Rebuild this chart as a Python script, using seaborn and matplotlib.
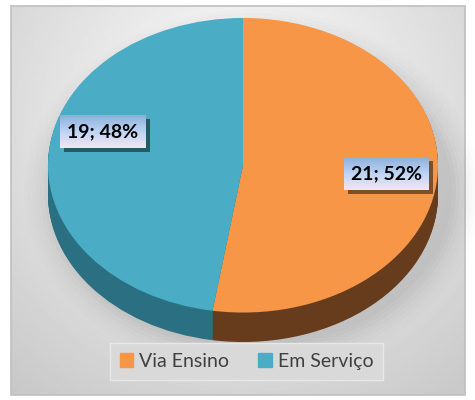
import numpy as np
import matplotlib
matplotlib.use("Agg")
import matplotlib.pyplot as plt
import matplotlib.patches as mpatches
import matplotlib.patheffects as pe
import seaborn as sns

categorias = ["Via Ensino", "Em Serviço"]
valores = [21, 19]
percentuais = [52, 48]
cores = ["#F79646", "#4BACC6"]
cores_lado = ["#673C1C", "#2B7082"]

sns.set_theme(style="white")
plt.rcParams["font.family"] = ["Lato", "DejaVu Sans"]

fig = plt.figure(figsize=(4.75, 4.0), dpi=100)

# fundo com gradiente radial e moldura
bg = fig.add_axes([0, 0, 1, 1])
bg.set_xlim(0, 475)
bg.set_ylim(400, 0)
bg.axis("off")
yy, xx = np.mgrid[0:390, 0:455]
d = np.sqrt(((xx - 230) / 330.0) ** 2 + ((yy - 110) / 330.0) ** 2)
grad = np.clip(1.0 - 0.2 * d, 0.78, 1.0)
bg.imshow(grad, cmap="gray", vmin=0, vmax=1, extent=(11, 465, 395, 6), aspect="auto", zorder=0)
bg.add_patch(mpatches.Rectangle((11, 6), 454, 389, fill=False, ec="#BFBFBF", lw=1.2, zorder=1))

# sombra suave do pie
for i, a in enumerate(np.linspace(0.06, 0.012, 8)):
    bg.add_patch(mpatches.Ellipse((252, 192), 400 + i * 8, 310 + i * 8, color="#808080", alpha=a, lw=0, zorder=1))

# pie 3D: camadas escuras para a espessura + topo
ax = fig.add_axes([48 / 475, (400 - 342) / 400, 390 / 475, 324 / 400])
prof = 0.2
for off in np.linspace(prof, 0.005, 30):
    ax.pie(valores, colors=cores_lado, startangle=90, counterclock=False,
           center=(0, -off), wedgeprops=dict(linewidth=0))
wedges, textos, autot = ax.pie(valores, colors=cores, startangle=90, counterclock=False,
                               autopct="%1.0f%%", pctdistance=0.74,
                               wedgeprops=dict(linewidth=0))
ax.set_aspect("auto")
ax.set_xlim(-1, 1)
ax.set_ylim(-1 - prof, 1)
ax.axis("off")

# rotulos "valor; percentual" com caixa em gradiente e sombra
grad_box = np.linspace(0, 1, 50).reshape(-1, 1)
cmap_box = matplotlib.colors.LinearSegmentedColormap.from_list("box", ["#8FAFD9", "#BCD4F5", "#F4E6F0"])
for k, t in enumerate(autot):
    t.set_text(f"{valores[k]}; {percentuais[k]}%")
    t.set_fontsize(14)
    t.set_fontweight("bold")
    t.set_color("black")
    t.set_zorder(10)
    if k == 1:
        x, y = t.get_position()
        t.set_position((x + 0.02, y + 0.17))

fig.canvas.draw()
inv = ax.transData.inverted()
for t in autot:
    bb = t.get_window_extent()
    x0, y0 = inv.transform((bb.x0 - 7, bb.y0 - 8))
    x1, y1 = inv.transform((bb.x1 + 7, bb.y1 + 8))
    sx, sy = inv.transform((bb.x0 - 3, bb.y0 - 12))
    dx, dy = sx - x0, sy - y0
    ax.add_patch(mpatches.Rectangle((x0 + dx, y0 + dy), x1 - x0, y1 - y0, color="black", alpha=0.35,
                                    lw=0, zorder=7,
                                    path_effects=[pe.withSimplePatchShadow(offset=(0, 0), alpha=0.2)]))
    ax.imshow(grad_box, cmap=cmap_box, extent=(x0, x1, y0, y1), aspect="auto", zorder=8,
              origin="upper")
ax.set_xlim(-1, 1)
ax.set_ylim(-1 - prof, 1)

# legenda
handles = [mpatches.Patch(color=c, label=l) for c, l in zip(cores, categorias)]
leg = fig.legend(handles=handles, loc="center", bbox_to_anchor=(0.519, 0.096), ncol=2,
                 frameon=True, fancybox=False, fontsize=14, handlelength=0.7, handleheight=0.7,
                 handletextpad=0.3, columnspacing=1.5, borderpad=0.5, borderaxespad=0)
leg.get_frame().set_facecolor("#D9D9D9")
leg.get_frame().set_edgecolor("#E8E8E8")
leg.get_frame().set_alpha(1)
for txt in leg.get_texts():
    txt.set_color("#404040")

fig.savefig("out.png", dpi=100)
